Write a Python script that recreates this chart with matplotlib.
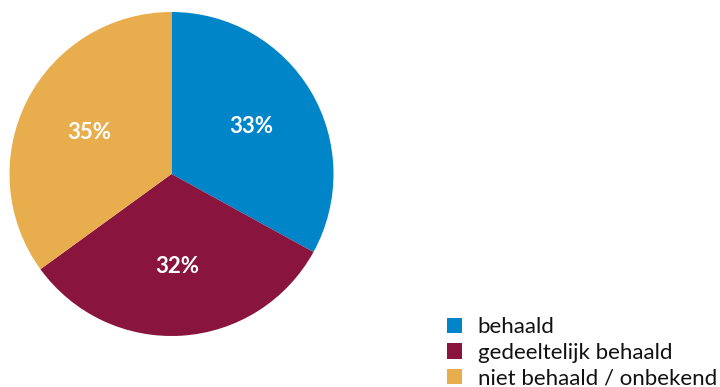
import matplotlib
matplotlib.use('Agg')
import matplotlib.pyplot as plt

plt.rcParams['font.family'] = ['Lato', 'DejaVu Sans']

labels = ['behaald', 'gedeeltelijk behaald', 'niet behaald / onbekend']
values = [33, 32, 35]
colors = ['#0085C9', '#89143D', '#E8AD4D']

fig = plt.figure(figsize=(7.2, 3.87), dpi=100)
ax = fig.add_axes([9 / 720, 51 / 387, 325 / 720, 324 / 387])

wedges, texts, autotexts = ax.pie(values, colors=colors, startangle=90, counterclock=False,
                                  autopct='%d%%', pctdistance=0.57,
                                  textprops={'color': 'white', 'fontsize': 16, 'fontweight': 'bold'})
ax.set_xlim(-1, 1)
ax.set_ylim(-1, 1)
ax.set_aspect('equal')

leg = fig.legend(wedges, labels, loc='lower left', bbox_to_anchor=(431 / 720, -17 / 387),
                 frameon=False, fontsize=16, handlelength=0.7, handleheight=0.7,
                 handletextpad=0.7, labelspacing=0.25, borderpad=0.2)
for t in leg.get_texts():
    t.set_color('#111111')

fig.savefig('out.png', dpi=100)
